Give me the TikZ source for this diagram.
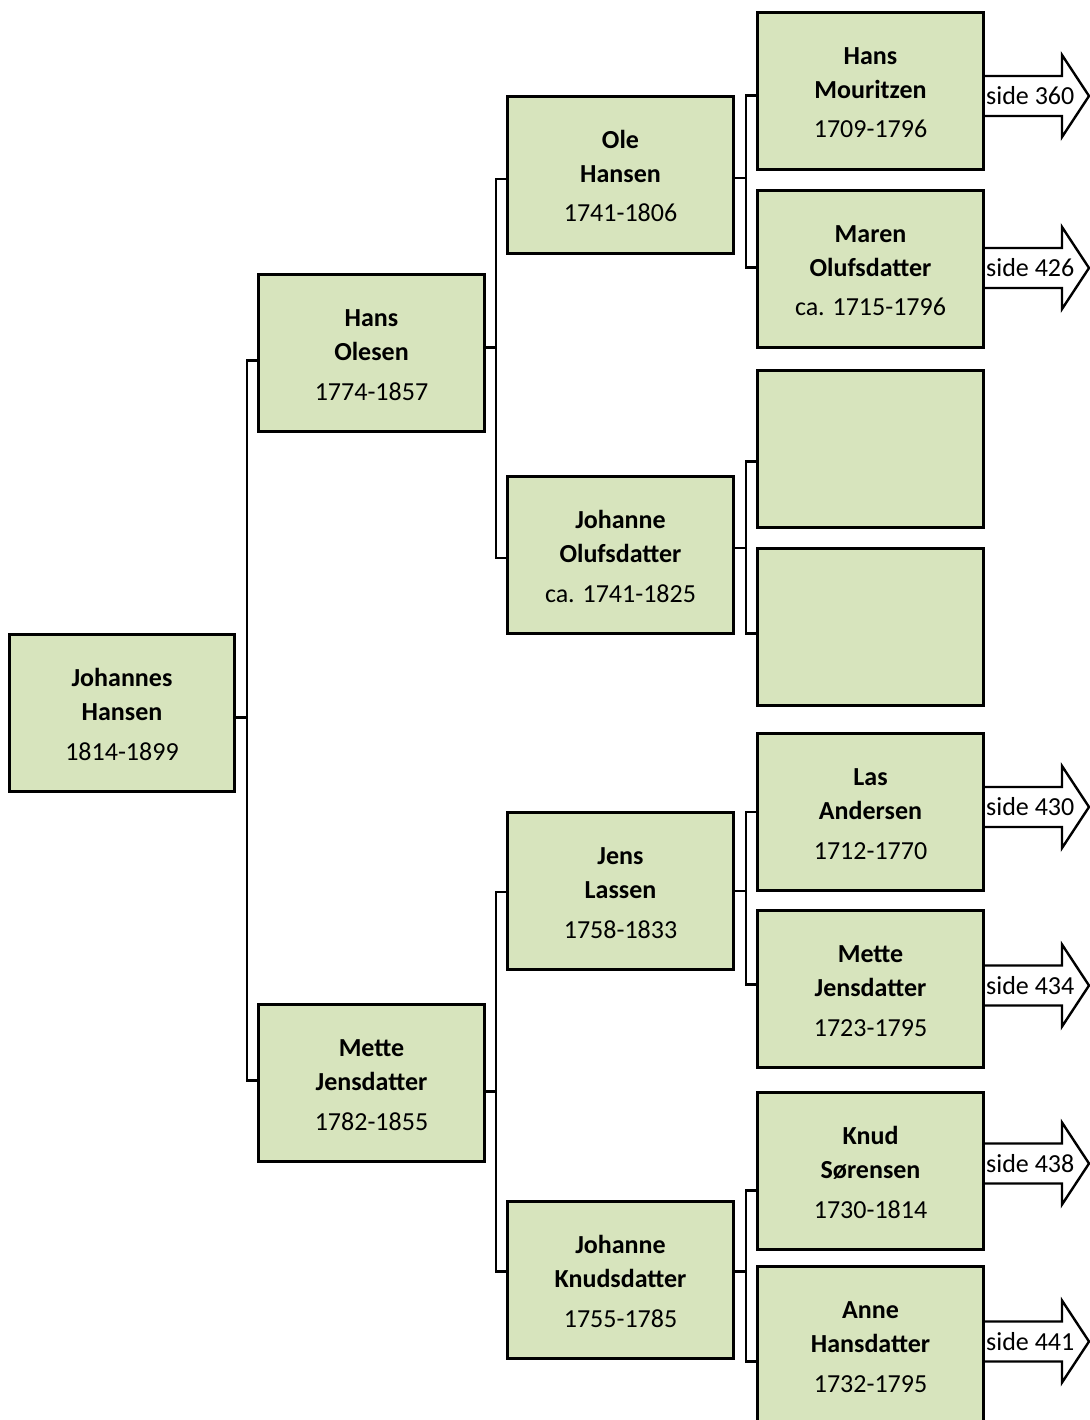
\documentclass[tikz,border=0pt]{standalone}
\usepackage{fontspec}
\setmainfont{Carlito}
\definecolor{boxgreen}{HTML}{D7E4BD}
\tikzset{
  pbox/.style={draw=black, line width=3pt, fill=boxgreen, minimum width=226pt, minimum height=157pt, anchor=north west, inner sep=0pt},
  nametext/.style={anchor=base, inner sep=0pt, font=\fontsize{26}{30}\selectfont\bfseries},
  datetext/.style={anchor=base, inner sep=0pt, font=\fontsize{26}{30}\selectfont},
  conn/.style={line width=2.8pt, line join=miter},
  arr/.style={draw=black, fill=white, line width=2.4pt, line join=miter},
  atext/.style={anchor=base west, inner sep=0pt, font=\fontsize{26}{30}\selectfont}
}
\newcommand\person[6]{%
  \node[pbox] (#1) at (#2,#3) {};
  \node[nametext] (#1-a) at ([yshift=-53.5pt]#1.north) {#4};
  \node[nametext] (#1-b) at ([yshift=-87.5pt]#1.north) {#5};
  \node[datetext] (#1-c) at ([yshift=-127pt]#1.north) {#6};
}
\newcommand\emptyperson[3]{%
  \node[pbox] (#1) at (#2,#3) {};
}
\newcommand\sidearrow[4]{%
  \coordinate (#1) at ([yshift=#3]#2.east);
  \draw[arr] (#1) +(0,-20) -- +(77,-20) -- +(77,-41) -- +(104,0) -- +(77,41) -- +(77,20) -- +(0,20);
  \node[atext] (#1-t) at ([xshift=1pt,yshift=-8.5pt]#1) {#4};
}
\begin{document}
\begin{tikzpicture}[x=1pt,y=-1pt]
\useasboundingbox (0,0) rectangle (1089,1420);
\fill[white] (0,0) rectangle (1089,1420);

% column coordinates for the connector verticals
\coordinate (c1) at (247,0);
\coordinate (c2) at (496,0);
\coordinate (c3) at (746,0);

% generation 1
\node[pbox, minimum width=225pt] (jh) at (8,633) {};
\node[nametext] (jh-a) at ([yshift=-53.5pt]jh.north) {Johannes};
\node[nametext] (jh-b) at ([yshift=-87.5pt]jh.north) {Hansen};
\node[datetext] (jh-c) at ([yshift=-127pt]jh.north) {1814-1899};

% generation 2
\person{ho}{257}{273}{Hans}{Olesen}{1774-1857}
\person{mj}{257}{1003}{Mette}{Jensdatter}{1782-1855}

% generation 3
\person{ole}{506}{95}{Ole}{Hansen}{1741-1806}
\person{jo}{506}{475}{Johanne}{Olufsdatter}{ca. 1741-1825}
\person{jl}{506}{811}{Jens}{Lassen}{1758-1833}
\person{jk}{506}{1200}{Johanne}{Knudsdatter}{1755-1785}

% generation 4
\person{hm}{756}{11}{Hans}{Mouritzen}{1709-1796}
\person{mo}{756}{189}{Maren}{Olufsdatter}{ca. 1715-1796}
\emptyperson{ea}{756}{369}
\emptyperson{eb}{756}{547}
\person{la}{756}{732}{Las}{Andersen}{1712-1770}
\person{mk}{756}{909}{Mette}{Jensdatter}{1723-1795}
\person{ks}{756}{1091}{Knud}{Sørensen}{1730-1814}
\person{ah}{756}{1265}{Anne}{Hansdatter}{1732-1795}

% connectors gen 1 -> 2
\draw[conn] ([yshift=-4.5pt]jh.east) -- ([yshift=-4.5pt]jh.east -| c1);
\draw[conn] ([yshift=-7.5pt]ho.west) -- ([yshift=-7.5pt]ho.west -| c1) |- ([yshift=2.5pt]mj.west);

% connectors gen 2 -> 3
\draw[conn] ([yshift=5.5pt]ho.east) -- ([yshift=5.5pt]ho.east -| c2);
\draw[conn] ([yshift=-4pt]ole.west) -- ([yshift=-4pt]ole.west -| c2) |- ([yshift=-3pt]jo.west);
\draw[conn] ([yshift=-8.5pt]mj.east) -- ([yshift=-8.5pt]mj.east -| c2);
\draw[conn] ([yshift=-1pt]jl.west) -- ([yshift=-1pt]jl.west -| c2) |- ([yshift=8.5pt]jk.west);

% connectors gen 3 -> 4
\draw[conn] ([yshift=-3pt]ole.east) -- ([yshift=-3pt]ole.east -| c3);
\draw[conn] ([yshift=-4.5pt]hm.west) -- ([yshift=-4.5pt]hm.west -| c3) |- ([yshift=1.5pt]mo.west);
\draw[conn] ([yshift=7pt]jo.east) -- ([yshift=7pt]jo.east -| c3);
\draw[conn] ([yshift=-12.5pt]ea.west) -- ([yshift=-12.5pt]ea.west -| c3) |- ([yshift=-6.5pt]eb.west);
\draw[conn] (jl.east) -- (jl.east -| c3);
\draw[conn] (la.west) -- (la.west -| c3) |- ([yshift=4.5pt]mk.west);
\draw[conn] ([yshift=8.5pt]jk.east) -- ([yshift=8.5pt]jk.east -| c3);
\draw[conn] ([yshift=-19.5pt]ks.west) -- ([yshift=-19.5pt]ks.west -| c3) |- ([yshift=-16.5pt]ah.west);

% page reference arrows
\sidearrow{arhm}{hm}{-5pt}{side 360}
\sidearrow{armo}{mo}{1pt}{side 426}
\sidearrow{arla}{la}{5pt}{side 430}
\sidearrow{armk}{mk}{3.5pt}{side 434}
\sidearrow{arks}{ks}{7.5pt}{side 438}
\sidearrow{arah}{ah}{3.5pt}{side 441}
\end{tikzpicture}
\end{document}
